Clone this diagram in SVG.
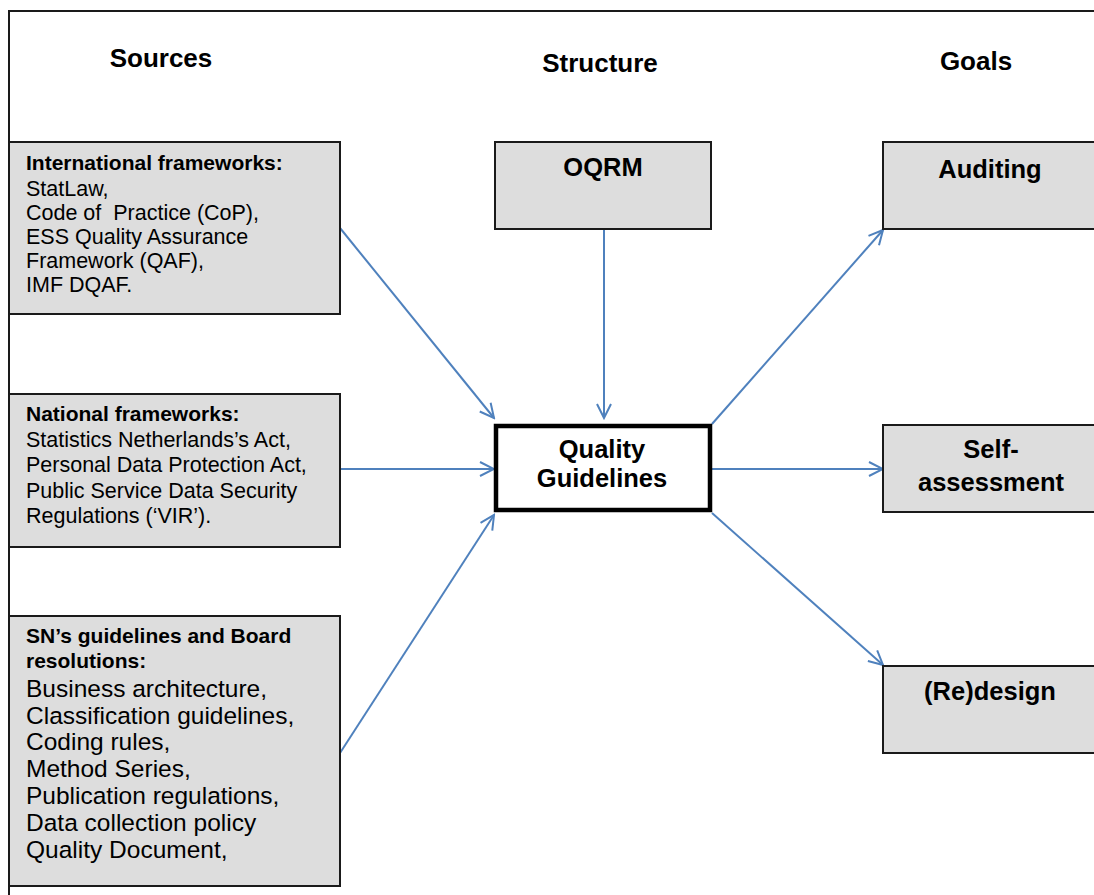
<svg xmlns="http://www.w3.org/2000/svg" width="1094" height="895" viewBox="0 0 1094 895">
<defs>
<style>
.box{fill:#dddddd;stroke:#1a1a1a;stroke-width:2}
.qg{fill:#ffffff;stroke:#000000;stroke-width:4.5}
.title{font-family:"Liberation Sans",Arial,sans-serif;font-weight:bold;font-size:26px;fill:#000;text-anchor:middle}
.head{font-family:"Liberation Sans",Arial,sans-serif;font-weight:bold;font-size:21px;fill:#000}
.body{font-family:"Liberation Sans",Arial,sans-serif;font-size:21.5px;fill:#000}
.body2{font-family:"Liberation Sans",Arial,sans-serif;font-size:24.5px;fill:#000}
.big{font-family:"Liberation Sans",Arial,sans-serif;font-weight:bold;font-size:25.5px;fill:#000;text-anchor:middle}
.conn{stroke:#4f81bd;stroke-width:2;fill:none;marker-end:url(#arr)}
</style>
<marker id="arr" viewBox="0 0 18 18" refX="16" refY="9" markerWidth="18" markerHeight="18" markerUnits="userSpaceOnUse" orient="auto">
<path d="M2,2 L16,9 L2,16" fill="none" stroke="#4f81bd" stroke-width="2"/>
</marker>
</defs>
<rect width="1094" height="895" fill="#ffffff"/>
<g id="frame">
<path d="M9,895 L9,11 L1100,11" fill="none" stroke="#1a1a1a" stroke-width="2"/>
</g>
<g id="titles">
<text class="title" x="161" y="67">Sources</text>
<text class="title" x="600" y="72">Structure</text>
<text class="title" x="976" y="70">Goals</text>
</g>
<g id="connectors">
<line class="conn" x1="340" y1="228" x2="494" y2="418"/>
<line class="conn" x1="340" y1="469" x2="494" y2="469"/>
<line class="conn" x1="340" y1="753" x2="494" y2="515"/>
<line class="conn" x1="604" y1="229" x2="604" y2="418"/>
<line class="conn" x1="712" y1="424" x2="883" y2="230"/>
<line class="conn" x1="712" y1="469" x2="883" y2="469"/>
<line class="conn" x1="712" y1="513" x2="883" y2="665"/>
</g>
<g id="international">
<rect class="box" x="9" y="142" width="331" height="172"/>
<text class="head" x="26" y="170">International frameworks:</text>
<text class="body" x="26" y="196">StatLaw,</text>
<text class="body" x="26" y="220" xml:space="preserve">Code of  Practice (CoP),</text>
<text class="body" x="26" y="244">ESS Quality Assurance</text>
<text class="body" x="26" y="268">Framework (QAF),</text>
<text class="body" x="26" y="292">IMF DQAF.</text>
</g>
<g id="national">
<rect class="box" x="9" y="394" width="331" height="153"/>
<text class="head" x="26" y="421">National frameworks:</text>
<text class="body" x="26" y="447">Statistics Netherlands’s Act,</text>
<text class="body" x="26" y="472">Personal Data Protection Act,</text>
<text class="body" x="26" y="498">Public Service Data Security</text>
<text class="body" x="26" y="523">Regulations (‘VIR’).</text>
</g>
<g id="sn">
<rect class="box" x="9" y="616" width="331" height="270"/>
<text class="head" x="26" y="643">SN’s guidelines and Board</text>
<text class="head" x="26" y="668">resolutions:</text>
<text class="body2" x="26" y="697">Business architecture,</text>
<text class="body2" x="26" y="724">Classification guidelines,</text>
<text class="body2" x="26" y="750">Coding rules,</text>
<text class="body2" x="26" y="777">Method Series,</text>
<text class="body2" x="26" y="804">Publication regulations,</text>
<text class="body2" x="26" y="831">Data collection policy</text>
<text class="body2" x="26" y="858">Quality Document,</text>
</g>
<g id="oqrm">
<rect class="box" x="495" y="142" width="216" height="87"/>
<text class="big" x="603" y="176">OQRM</text>
</g>
<g id="quality-guidelines">
<rect class="qg" x="496" y="426" width="214" height="84"/>
<text class="big" x="602" y="458">Quality</text>
<text class="big" x="602" y="487">Guidelines</text>
</g>
<g id="auditing">
<rect class="box" x="883" y="142" width="220" height="87"/>
<text class="big" x="990" y="178">Auditing</text>
</g>
<g id="self-assessment">
<rect class="box" x="883" y="425" width="220" height="87"/>
<text class="big" x="991" y="458">Self-</text>
<text class="big" x="991" y="491">assessment</text>
</g>
<g id="redesign">
<rect class="box" x="883" y="666" width="220" height="87"/>
<text class="big" x="990" y="700">(Re)design</text>
</g>
</svg>
